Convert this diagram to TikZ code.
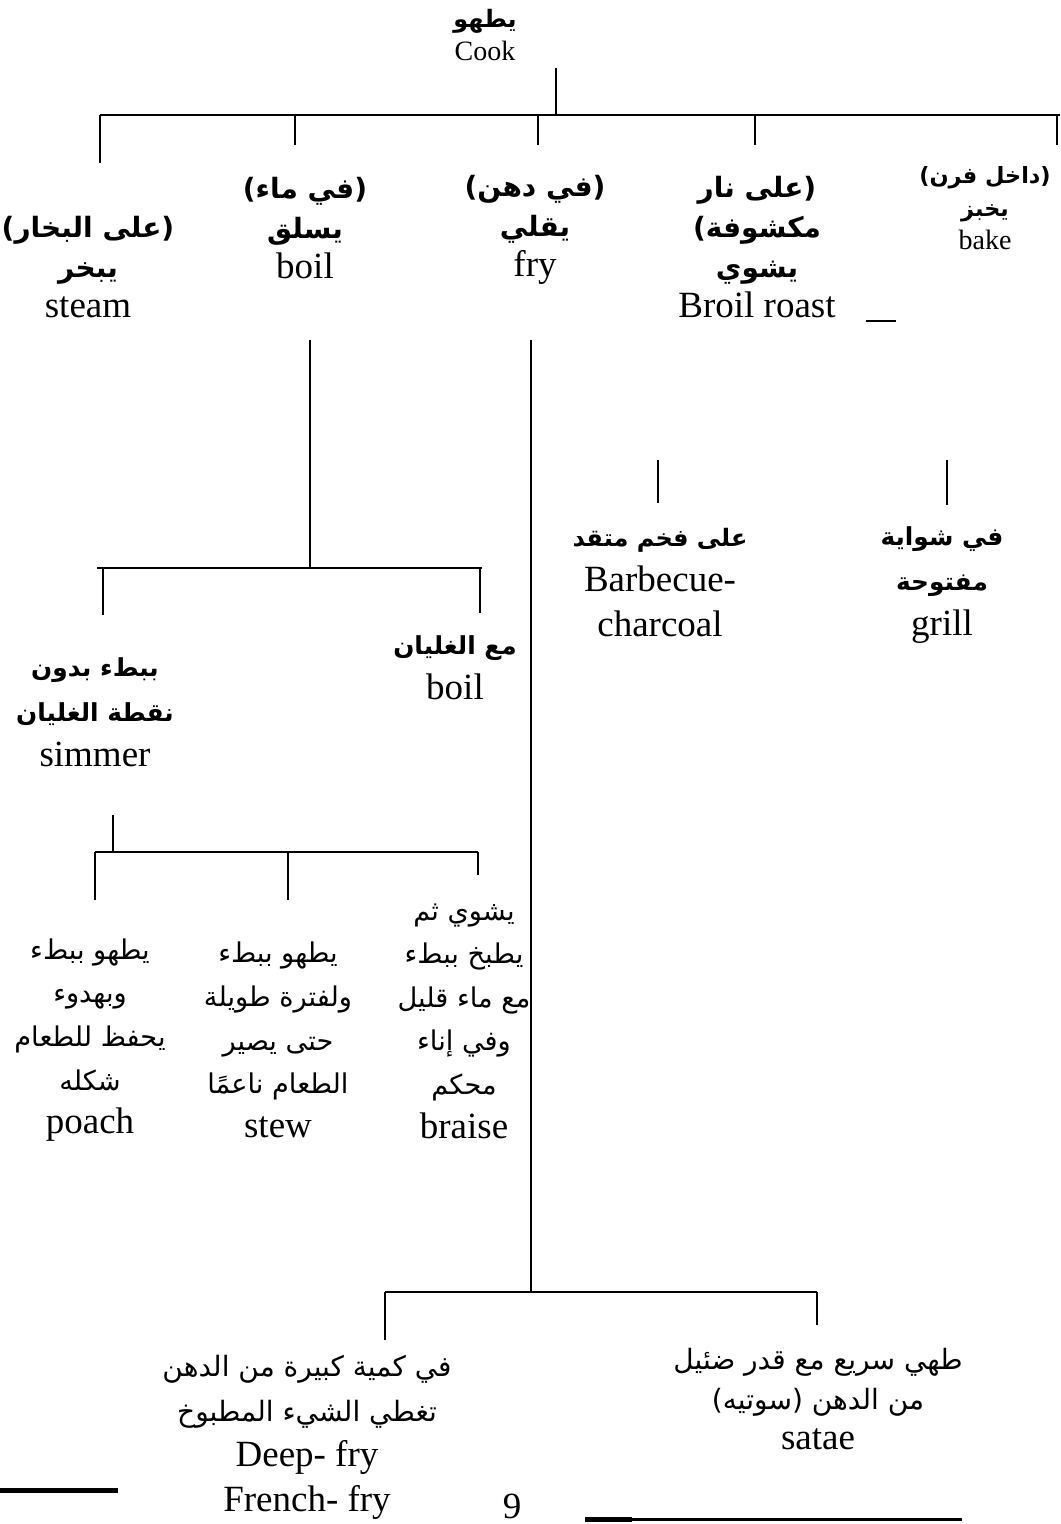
\documentclass[tikz,border=0pt]{standalone}
\usepackage{fontspec}
\setmainfont{Liberation Serif}
\newfontfamily\arabicfont[Script=Arabic,Scale=0.8]{DejaVu Sans}
\TeXXeTstate=1
\newcommand{\arbold}[1]{\arabicfont\bfseries\fontsize{#1}{#1}\selectfont}
\newcommand{\arreg}[1]{\arabicfont\fontsize{#1}{#1}\selectfont}

\begin{document}
\begin{tikzpicture}[
      x=0.5pt, y=-0.5pt,
      big/.style={
          align=center,
          inner sep=0pt,
          font=\fontsize{18.5}{20}\selectfont
        },
      mid/.style={
          big,
          font=\fontsize{18.5}{22.5}\selectfont
        },
      low/.style={
          big,
          font=\fontsize{18.5}{21.8}\selectfont
        },
      small/.style={
          align=center,
          inner sep=0pt,
          font=\fontsize{14}{16.5}\selectfont
        },
      branch/.style={line width=0.8pt},
      rule/.style={line width=#1}
    ]
    \useasboundingbox (0,0) rectangle (1060,1524);

    % labels
    \node[small] (cook) at (485,35) {{\arbold{15}\beginR يطهو\endR}\\ Cook};
    \node[big] (steam) at (88,267) {{\arbold{17.5}\beginR(على البخار)\endR}\\ {\arbold{17.5}\beginR يبخر\endR}\\ steam};
    \node[big] (boil) at (305,228) {{\arbold{17.5}\beginR(في ماء)\endR}\\ {\arbold{17.5}\beginR يسلق\endR}\\ boil};
    \node[big] (fry) at (535,230) {{\arbold{17.5}\beginR(في دهن)\endR}\\ {\arbold{17.5}\beginR يقلي\endR}\\ fry};
    \node[big] (broil) at (757,247) {{\arbold{17.5}\beginR(على نار\endR}\\ {\arbold{17.5}\beginR مكشوفة)\endR}\\ {\arbold{17.5}\beginR يشوي\endR}\\ Broil roast};
    \node[small] (bake) at (985,208) {{\arbold{14}\beginR(داخل فرن)\endR}\\ {\arbold{14}\beginR يخبز\endR}\\ bake};
    \node[mid] (simmer) at (95,712) {{\arbold{15.5}\beginR ببطء بدون\endR}\\ {\arbold{15.5}\beginR نقطة الغليان\endR}\\ simmer};
    \node[mid] (boilhard) at (455,668) {{\arbold{15.5}\beginR مع الغليان\endR}\\ boil};
    \node[mid] (bbq) at (660,583) {{\arbold{15}\beginR على فخم متقد\endR}\\ Barbecue-\\ charcoal};
    \node[mid] (grill) at (942,585) {{\arbold{15.5}\beginR في شواية\endR}\\ {\arbold{15.5}\beginR مفتوحة\endR}\\ grill};
    \node[low] (poach) at (90,1040) {{\arreg{17}\beginR يطهو ببطء\endR}\\ {\arreg{17}\beginR وبهدوء\endR}\\ {\arreg{17}\beginR يحفظ للطعام\endR}\\ {\arreg{17}\beginR شكله\endR}\\ poach};
    \node[low] (stew) at (278,1040) {{\arreg{17}\beginR يطهو ببطء\endR}\\ {\arreg{17}\beginR ولفترة طويلة\endR}\\ {\arreg{17}\beginR حتى يصير\endR}\\ {\arreg{17}\beginR الطعام ناعمًا\endR}\\ stew};
    \node[low] (braise) at (464,1021) {{\arreg{17}\beginR يشوي ثم\endR}\\ {\arreg{17}\beginR يطبخ ببطء\endR}\\ {\arreg{17}\beginR مع ماء قليل\endR}\\ {\arreg{17}\beginR وفي إناء\endR}\\ {\arreg{17}\beginR محكم\endR}\\ braise};
    \node[mid] (deepfry) at (307,1437) {{\arreg{17.5}\beginR في كمية كبيرة من الدهن\endR}\\ {\arreg{17.5}\beginR تغطي الشيء المطبوخ\endR}\\ Deep- fry\\ French- fry};
    \node[big] (saute) at (818,1399) {{\arreg{17.5}\beginR طهي سريع مع قدر ضئيل\endR}\\ {\arreg{17.5}\beginR من الدهن (سوتيه)\endR}\\ satae};
    \node[big, anchor=base] (page) at (512,1518) {9};

    % junctions
    \coordinate (cook-stem) at (556,68);
    \coordinate (top-bus) at (556,115);
    \coordinate (top-west) at (100,115);
    \coordinate (top-east) at (1060,115);
    \coordinate (steam-tip) at (100,163);
    \coordinate (boil-tip) at (295,145);
    \coordinate (fry-tip) at (538,145);
    \coordinate (broil-tip) at (755,145);
    \coordinate (bake-tip) at (1057,145);
    \coordinate (broil-mark) at (866,321);
    \coordinate (broil-mark-end) at (896,321);

    \coordinate (boil-stem) at (310,340);
    \coordinate (boil-bus) at (310,568);
    \coordinate (boil-west) at (97,568);
    \coordinate (boil-east) at (482,568);
    \coordinate (simmer-tip) at (103,615);
    \coordinate (boilhard-tip) at (480,613);

    \coordinate (fry-stem) at (531,340);
    \coordinate (fry-bus) at (531,1292);
    \coordinate (fry-west) at (385,1292);
    \coordinate (fry-east) at (817,1292);
    \coordinate (deepfry-tip) at (385,1340);
    \coordinate (saute-tip) at (817,1325);

    \coordinate (bbq-top) at (658,460);
    \coordinate (bbq-tip) at (658,503);
    \coordinate (grill-top) at (947,460);
    \coordinate (grill-tip) at (947,505);

    \coordinate (simmer-stem) at (113,815);
    \coordinate (simmer-bus) at (113,852);
    \coordinate (simmer-west) at (95,852);
    \coordinate (simmer-east) at (478,852);
    \coordinate (poach-tip) at (95,900);
    \coordinate (stew-tip) at (288,900);
    \coordinate (braise-tip) at (478,875);

    % tree
    \draw[branch] (cook-stem) -- (top-bus);
    \draw[branch] (top-west) -- (top-east);
    \foreach \n in {steam,boil,fry,broil,bake}
    \draw[branch] (\n-tip |- top-bus) -- (\n-tip);
    \draw[branch] (broil-mark) -- (broil-mark-end);

    \draw[branch] (boil-stem) -- (boil-bus);
    \draw[branch] (boil-west) -- (boil-east);
    \foreach \n in {simmer,boilhard}
    \draw[branch] (\n-tip |- boil-bus) -- (\n-tip);

    \draw[branch] (fry-stem) -- (fry-bus);
    \draw[branch] (fry-west) -- (fry-east);
    \foreach \n in {deepfry,saute}
    \draw[branch] (\n-tip |- fry-bus) -- (\n-tip);

    \draw[branch] (bbq-top) -- (bbq-tip);
    \draw[branch] (grill-top) -- (grill-tip);

    \draw[branch] (simmer-stem) -- (simmer-bus);
    \draw[branch] (simmer-west) -- (simmer-east);
    \foreach \n in {poach,stew,braise}
    \draw[branch] (\n-tip |- simmer-bus) -- (\n-tip);

    % page rules
    \coordinate (rule-a) at (0,1490);
    \coordinate (rule-b) at (118,1490);
    \coordinate (rule-c) at (585,1519);
    \coordinate (rule-d) at (632,1519);
    \coordinate (rule-e) at (962,1519);
    \draw[rule=2.5pt] (rule-a) -- (rule-b);
    \draw[rule=1.5pt] (rule-c) -- (rule-e);
    \draw[rule=2.5pt] (rule-c) -- (rule-d);
  \end{tikzpicture}
\end{document}
